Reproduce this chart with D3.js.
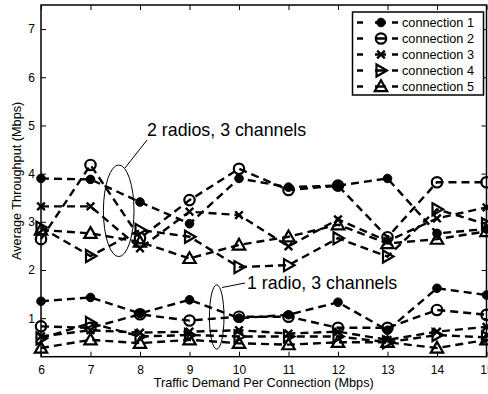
<!DOCTYPE html>
<html>
<head>
<meta charset="utf-8">
<script src="https://cdn.jsdelivr.net/npm/d3@7"></script>
<style>
  body { margin: 0; background: #fff; }
  text { font-family: "Liberation Sans", Arial, sans-serif; }
</style>
</head>
<body>
<div id="chart"></div>
<script>
// traffic demand per connection (Mbps)
const demand = [6, 7, 8, 9, 10, 11, 12, 13, 14, 15];
const xTicks = [6, 7, 8, 9, 10, 11, 12, 13, 14, 15];
const yTicks = [1, 2, 3, 4, 5, 6, 7];
const names = ["connection 1", "connection 2", "connection 3", "connection 4", "connection 5"];

// 2 radios, 3 channels
const twoRadio1 = [3.9, 3.88, 3.41, 2.96, 3.9, 3.72, 3.75, 3.9, 2.76, 2.85];
const twoRadio2 = [2.64, 4.18, 2.66, 3.45, 4.1, 3.66, 3.75, 2.68, 3.82, 3.82];
const twoRadio3 = [3.32, 3.32, 2.45, 3.21, 3.14, 2.49, 3.05, 2.6, 3.07, 3.3];
const twoRadio4 = [2.88, 2.29, 2.83, 2.69, 2.06, 2.1, 2.66, 2.28, 3.26, 2.95];
const twoRadio5 = [2.83, 2.76, 2.58, 2.24, 2.52, 2.69, 2.94, 2.55, 2.64, 2.8];

// 1 radio, 3 channels
const oneRadio1 = [1.35, 1.43, 1.1, 1.38, 1.0, 1.07, 1.33, 0.75, 1.62, 1.48];
const oneRadio2 = [0.83, 0.8, 1.08, 0.95, 1.03, 1.03, 0.8, 0.8, 1.17, 1.07];
const oneRadio3 = [0.62, 0.75, 0.7, 0.72, 0.75, 0.68, 0.72, 0.55, 0.72, 0.82];
const oneRadio4 = [0.58, 0.9, 0.62, 0.65, 0.62, 0.62, 0.62, 0.5, 0.65, 0.6];
const oneRadio5 = [0.38, 0.55, 0.48, 0.55, 0.48, 0.45, 0.5, 0.5, 0.38, 0.55];

const width = 488, height = 394;
const margin = { top: 5, right: 1.5, bottom: 37.3, left: 41 };

const svg = d3.select("#chart").append("svg")
  .attr("width", width).attr("height", height);

const x = d3.scaleLinear().domain([6, 15])
  .range([margin.left, width - margin.right]);
const y = d3.scaleLinear().domain([0.2, 7.5])
  .range([height - margin.bottom, margin.top]);

const tickLen = 5;

// axes with inward ticks on all sides
svg.append("g")
  .attr("transform", `translate(0,${y.range()[0]})`)
  .call(d3.axisBottom(x).tickValues(xTicks).tickSize(-tickLen).tickPadding(9).tickFormat(d3.format("d")))
  .call(g => g.select(".domain").remove())
  .call(g => g.selectAll("text").attr("font-size", 12).attr("fill", "#000"));
svg.append("g")
  .attr("transform", `translate(0,${y.range()[1]})`)
  .call(d3.axisTop(x).tickValues(xTicks).tickSize(-tickLen).tickFormat(""))
  .call(g => g.select(".domain").remove());
svg.append("g")
  .attr("transform", `translate(${x.range()[0]},0)`)
  .call(d3.axisLeft(y).tickValues(yTicks).tickSize(-tickLen).tickPadding(6).tickFormat(d3.format("d")))
  .call(g => g.select(".domain").remove())
  .call(g => g.selectAll("text").attr("font-size", 12).attr("fill", "#000"));
svg.append("g")
  .attr("transform", `translate(${x.range()[1]},0)`)
  .call(d3.axisRight(y).tickValues(yTicks).tickSize(-tickLen).tickFormat(""))
  .call(g => g.select(".domain").remove());

svg.append("rect")
  .attr("x", x.range()[0]).attr("y", y.range()[1])
  .attr("width", x.range()[1] - x.range()[0])
  .attr("height", y.range()[0] - y.range()[1])
  .attr("fill", "none").attr("stroke", "#000").attr("stroke-width", 1.5);

// markers
function drawMarker(g, k, cx, cy) {
  const m = g.append("g").attr("transform", `translate(${cx},${cy})`)
    .attr("stroke", "#000").attr("stroke-width", 2.2).attr("fill", "none");
  if (k === 0) {
    m.append("circle").attr("r", 4.3).attr("fill", "#000").attr("stroke-width", 1);
  } else if (k === 1) {
    m.append("circle").attr("r", 5.2);
  } else if (k === 2) {
    m.append("path").attr("d", "M-3.8,-3.8L3.8,3.8M-3.8,3.8L3.8,-3.8").attr("stroke-width", 2.4);
  } else if (k === 3) {
    m.append("path").attr("d", "M-4.5,-6L6,0L-4.5,6Z");
  } else {
    m.append("path").attr("d", "M0,-6.2L6.2,4.6L-6.2,4.6Z");
  }
}

const line = d3.line().x((d, i) => x(demand[i])).y(d => y(d));
const groups = [
  [twoRadio1, twoRadio2, twoRadio3, twoRadio4, twoRadio5],
  [oneRadio1, oneRadio2, oneRadio3, oneRadio4, oneRadio5]
];

const plot = svg.append("g");
groups.forEach(series => {
  series.forEach(vals => {
    plot.append("path").datum(vals)
      .attr("d", line)
      .attr("fill", "none").attr("stroke", "#000")
      .attr("stroke-width", 2.4).attr("stroke-dasharray", "8,5");
  });
});
groups.forEach(series => {
  series.forEach((vals, k) => {
    vals.forEach((v, i) => drawMarker(plot, k, x(demand[i]), y(v)));
  });
});

// annotations
svg.append("ellipse")
  .attr("cx", 118.7).attr("cy", 210.8).attr("rx", 15.3).attr("ry", 45.8)
  .attr("fill", "none").attr("stroke", "#000").attr("stroke-width", 1);
svg.append("line")
  .attr("x1", 125).attr("y1", 168).attr("x2", 147).attr("y2", 140)
  .attr("stroke", "#000").attr("stroke-width", 1);
svg.append("text").attr("x", 147).attr("y", 136)
  .attr("font-size", 17.8).text("2 radios, 3 channels");

svg.append("ellipse")
  .attr("cx", 216.7).attr("cy", 317).attr("rx", 7.3).attr("ry", 32.2)
  .attr("fill", "none").attr("stroke", "#000").attr("stroke-width", 1);
svg.append("line")
  .attr("x1", 222).attr("y1", 287.5).attr("x2", 245).attr("y2", 283)
  .attr("stroke", "#000").attr("stroke-width", 1);
svg.append("text").attr("x", 247).attr("y", 289)
  .attr("font-size", 17.8).text("1 radio, 3 channels");

// axis labels
svg.append("text")
  .attr("x", (x.range()[0] + x.range()[1]) / 2).attr("y", 387)
  .attr("text-anchor", "middle").attr("font-size", 12.7)
  .text("Traffic Demand Per Connection (Mbps)");
svg.append("text")
  .attr("transform", `translate(21,${(y.range()[0] + y.range()[1]) / 2}) rotate(-90)`)
  .attr("text-anchor", "middle").attr("font-size", 12.7)
  .text("Average Throughput (Mbps)");

// legend
const legend = svg.append("g");
legend.append("rect")
  .attr("x", 352.5).attr("y", 12).attr("width", 131).attr("height", 83)
  .attr("fill", "#fff").attr("stroke", "#000").attr("stroke-width", 1.5);
names.forEach((name, k) => {
  const ly = 22.5 + k * 16;
  legend.append("line")
    .attr("x1", 357).attr("x2", 398).attr("y1", ly).attr("y2", ly)
    .attr("stroke", "#000").attr("stroke-width", 2.4)
    .attr("stroke-dasharray", "6,12,11,6,6");
  drawMarker(legend, k, 381, ly);
  legend.append("text").attr("x", 402).attr("y", ly + 4.5)
    .attr("font-size", 12.7).text(name);
});
</script>
</body>
</html>
